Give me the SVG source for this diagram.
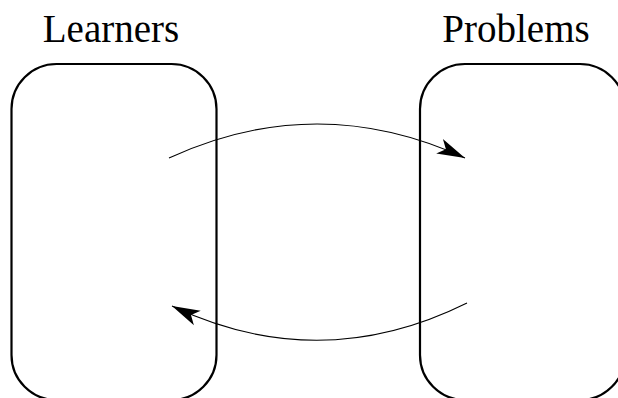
<svg xmlns="http://www.w3.org/2000/svg" width="618" height="398" viewBox="0 0 618 398">
<style>
.box{fill:none;stroke:#000;stroke-width:2.2}
.lbl{font-family:"Liberation Serif","Times New Roman",serif;font-size:39px;fill:#000;text-anchor:middle}
.arc{fill:none;stroke:#000;stroke-width:1.1}
</style>
<defs>
<marker id="ah" markerUnits="userSpaceOnUse" markerWidth="40" markerHeight="30" viewBox="-30 -15 40 30" refX="0" refY="0" orient="auto">
<path d="M0,0 L-28,-8 L-21,0 L-28,8 Z" fill="#000"/>
</marker>
</defs>
<rect width="618" height="398" fill="#fff"/>
<g id="learners">
<rect class="box" x="11.5" y="64" width="205" height="336" rx="45" ry="45"/>
<text class="lbl" x="111" y="42">Learners</text>
</g>
<g id="problems">
<rect class="box" x="420" y="64" width="205" height="336" rx="45" ry="45"/>
<text class="lbl" x="516" y="42">Problems</text>
</g>
<g id="connectors">
<path class="arc" d="M169,158 Q317,90 465,158" marker-end="url(#ah)"/>
<path class="arc" d="M467,303 Q320,376 172,306" marker-end="url(#ah)"/>
</g>
</svg>
